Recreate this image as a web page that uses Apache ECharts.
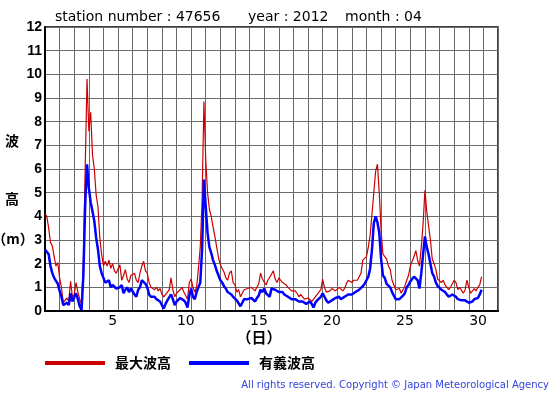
<!DOCTYPE html>
<html>
<head>
<meta charset="utf-8">
<script src="https://cdn.jsdelivr.net/npm/echarts@6/dist/echarts.min.js"></script>
<style>
html,body{margin:0;padding:0;background:#fff;}
#chart{width:555px;height:395px;}
</style>
</head>
<body>
<div id="chart"></div>
<script>
// ---- data (3-hourly samples from 1 April 00:00, heights in metres) ----
const stepHours = 3;
const xLabels = [5, 10, 15, 20, 25, 30];
const yMin = 0, yMax = 12;
const titleStation = 'station number : 47656';
const titleYear = 'year : 2012';
const titleMonth = 'month : 04';
const seriesNames = ['最大波高', '有義波高'];

const maxWave = [
  4.1, 4.0, 3.5, 2.9, 2.75, 2.3, 1.9, 2.05,
  1.4, 1.0, 0.35, 0.45, 0.55, 0.4, 1.25, 0.6,
  0.7, 1.2, 0.8, 0.5, 0.3, 2.0, 6.0, 9.8,
  7.6, 8.4, 6.6, 6.0, 4.9, 4.4, 3.1, 2.4,
  1.9, 2.1, 1.9, 2.15, 1.8, 2.0, 1.7, 1.6,
  1.6, 1.95, 1.3, 1.5, 1.75, 1.35, 1.2, 1.5,
  1.5, 1.6, 1.3, 1.2, 1.6, 1.9, 2.1, 1.7,
  1.6, 1.2, 1.0, 0.95, 0.9, 1.0, 0.85, 0.95,
  0.7, 0.6, 0.65, 0.8, 0.9, 1.4, 0.9, 0.6,
  0.75, 0.8, 0.9, 1.0, 0.8, 0.85, 0.5, 1.2,
  1.35, 1.0, 0.8, 1.0, 1.8, 2.7, 4.7, 8.85,
  6.4, 5.0, 4.3, 4.0, 3.55, 3.15, 2.7, 2.25,
  1.95, 1.8, 1.65, 1.4, 1.3, 1.6, 1.7, 1.2,
  1.1, 0.8, 0.9, 0.6, 0.75, 0.9, 0.85, 0.95,
  0.9, 1.0, 1.05, 0.85, 1.0, 1.15, 1.6, 1.35,
  1.3, 1.1, 1.3, 1.25, 1.55, 1.7, 1.35, 1.2,
  1.4, 1.45, 1.2, 1.15, 1.1, 1.0, 0.95, 0.85,
  0.8, 0.85, 0.75, 0.6, 0.7, 0.6, 0.5, 0.45,
  0.55, 0.5, 0.4, 0.35, 0.6, 0.7, 0.75, 0.9,
  1.35, 1.0, 0.8, 0.85, 0.85, 0.95, 0.9, 0.85,
  0.9, 1.0, 1.05, 0.85, 0.95, 1.15, 1.3, 1.25,
  1.2, 1.3, 1.35, 1.3, 1.45, 1.6, 2.15, 2.2,
  2.3, 2.7, 3.2, 4.1, 5.0, 5.9, 6.2, 5.0,
  3.4, 2.4, 2.3, 2.2, 1.9, 1.75, 1.3, 1.1,
  0.9, 0.85, 0.95, 0.75, 0.9, 1.05, 1.3, 1.5,
  1.9, 1.95, 2.3, 2.55, 2.15, 1.9, 2.7, 3.7,
  5.1, 4.2, 3.6, 3.0, 2.2, 2.0, 1.75, 1.35,
  1.4, 1.2, 1.3, 1.1, 1.05, 0.9, 1.0, 0.95,
  1.3, 1.2, 0.9, 1.0, 0.95, 0.75, 0.9, 1.3,
  1.0, 0.75, 0.8, 0.95, 0.85, 1.0, 1.1, 1.45
];

const sigWave = [
  2.6, 2.6, 2.4, 1.9, 1.6, 1.4, 1.27, 1.15,
  0.85, 0.6, 0.25, 0.3, 0.35, 0.25, 0.75, 0.4,
  0.45, 0.75, 0.5, 0.2, 0.05, 1.5, 4.5, 6.2,
  5.2, 4.6, 4.2, 3.8, 3.1, 2.6, 1.9, 1.6,
  1.4, 1.2, 1.15, 1.3, 1.0, 1.1, 1.15, 0.95,
  0.9, 1.0, 1.1, 0.75, 0.9, 1.0, 0.8, 0.95,
  0.95, 0.7, 0.6, 0.9, 1.0, 1.3, 1.25, 1.15,
  1.0, 0.7, 0.6, 0.55, 0.6, 0.5, 0.45, 0.4,
  0.35, 0.1, 0.3, 0.45, 0.5, 0.7, 0.5, 0.25,
  0.4, 0.45, 0.55, 0.6, 0.45, 0.35, 0.15, 0.65,
  0.95, 0.6, 0.5, 0.8, 1.0, 1.2, 2.6, 5.55,
  4.4, 3.3, 2.7, 2.45, 2.15, 1.95, 1.7, 1.5,
  1.3, 1.2, 1.05, 0.95, 0.8, 0.75, 0.7, 0.6,
  0.55, 0.45, 0.4, 0.2, 0.35, 0.5, 0.45, 0.5,
  0.5, 0.55, 0.6, 0.4, 0.55, 0.65, 0.9, 0.8,
  0.95, 0.75, 0.7, 0.6, 0.95, 1.0, 0.9, 0.85,
  0.8, 0.75, 0.8, 0.7, 0.65, 0.6, 0.55, 0.5,
  0.5, 0.5, 0.45, 0.4, 0.45, 0.4, 0.35, 0.3,
  0.35, 0.4, 0.3, 0.15, 0.35, 0.45, 0.5, 0.6,
  0.75, 0.6, 0.45, 0.35, 0.4, 0.45, 0.5, 0.55,
  0.55, 0.6, 0.5, 0.5, 0.6, 0.65, 0.7, 0.7,
  0.7, 0.75, 0.8, 0.75, 0.9, 0.95, 1.05, 1.15,
  1.3, 1.45, 1.8, 2.6, 3.7, 4.0, 3.75, 3.3,
  2.2, 1.5, 1.4, 1.15, 1.1, 1.0, 0.8, 0.65,
  0.5, 0.45, 0.5, 0.55, 0.65, 0.75, 1.0, 1.1,
  1.25, 1.35, 1.45, 1.4, 1.3, 0.95, 1.6, 2.4,
  3.15, 2.7, 2.4, 2.0, 1.6, 1.45, 1.2, 1.05,
  1.0, 0.9, 0.85, 0.8, 0.7, 0.6, 0.65, 0.7,
  0.7, 0.6, 0.5, 0.55, 0.45, 0.5, 0.45, 0.5,
  0.35, 0.3, 0.4, 0.5, 0.45, 0.55, 0.7, 0.9
];

// ---- chart ----
const toPairs = arr => arr.map((v, i) => [i * stepHours / 24, v]);
const chart = echarts.init(document.getElementById('chart'), null, {renderer: 'canvas'});
const latin = "'DejaVu Sans', sans-serif";
const cjk = "'Noto Sans CJK JP', sans-serif";

chart.setOption({
  animation: false,
  backgroundColor: '#fff',
  grid: {left: 45, right: 57, top: 27, bottom: 84, show: true, borderColor: '#000', borderWidth: 1.5, containLabel: false},
  xAxis: [
    {
      type: 'value', min: 0, max: 31, interval: 1,
      axisLine: {show: true, lineStyle: {color: '#000', width: 2}},
      axisTick: {show: false}, axisLabel: {show: false},
      splitLine: {show: true, lineStyle: {color: '#6a6a6a', width: 1}}
    },
    {
      type: 'value', min: 0, max: 31, interval: 0.5, position: 'bottom',
      axisLine: {show: false}, axisTick: {show: false}, splitLine: {show: false},
      axisLabel: {
        show: true, margin: 3, color: '#000', fontFamily: latin, fontSize: 14,
        padding: [0, 0, 0, 4],
        formatter: v => {
          const n = Math.round(v + 0.5);
          return (Math.abs(v + 0.5 - n) < 1e-6 && xLabels.includes(n)) ? String(n) : '';
        }
      }
    }
  ],
  yAxis: {
    type: 'value', min: yMin, max: yMax, interval: 1,
    axisLine: {show: true, lineStyle: {color: '#000', width: 2}},
    axisTick: {show: false},
    axisLabel: {margin: 3, color: '#000', fontFamily: "'Liberation Sans', Arial, sans-serif", fontWeight: 'bold', fontSize: 14},
    splitLine: {show: true, lineStyle: {color: '#6a6a6a', width: 1}}
  },
  legend: {
    left: 45, top: 356, padding: 0, itemWidth: 60, itemHeight: 4, itemGap: 18, icon: 'rect',
    textStyle: {fontFamily: cjk, fontWeight: 'bold', fontSize: 14, color: '#000', padding: [0, 0, 0, 5]},
    data: seriesNames
  },
  series: [
    {
      name: seriesNames[0], type: 'line', xAxisIndex: 0, showSymbol: false, symbol: 'none',
      color: '#cc0000', lineStyle: {color: '#cc0000', width: 1.2}, z: 2,
      data: toPairs(maxWave)
    },
    {
      name: seriesNames[1], type: 'line', xAxisIndex: 0, showSymbol: false, symbol: 'none',
      color: '#0000ff', lineStyle: {color: '#0000ff', width: 2.5}, z: 3,
      data: toPairs(sigWave)
    }
  ],
  graphic: [
    {type: 'text', x: 55, y: 17, style: {text: titleStation, font: '14px ' + latin, fill: '#000', align: 'left', verticalAlign: 'middle'}},
    {type: 'text', x: 248, y: 17, style: {text: titleYear, font: '14px ' + latin, fill: '#000', align: 'left', verticalAlign: 'middle'}},
    {type: 'text', x: 345, y: 17, style: {text: titleMonth, font: '14px ' + latin, fill: '#000', align: 'left', verticalAlign: 'middle'}},
    {type: 'text', x: 12, y: 141, style: {text: '波', font: 'bold 14px ' + cjk, fill: '#000', align: 'center', verticalAlign: 'middle'}},
    {type: 'text', x: 12, y: 199, style: {text: '高', font: 'bold 14px ' + cjk, fill: '#000', align: 'center', verticalAlign: 'middle'}},
    {type: 'text', x: 13, y: 239, style: {text: '（m）', font: 'bold 14px ' + cjk, fill: '#000', align: 'center', verticalAlign: 'middle'}},
    {type: 'text', x: 259, y: 337, style: {text: '（日）', font: 'bold 15px ' + cjk, fill: '#000', align: 'center', verticalAlign: 'middle'}},
    {type: 'text', x: 549, y: 385, style: {text: 'All rights reserved. Copyright © Japan Meteorological Agency', font: '10px ' + latin, fill: '#3344dd', align: 'right', verticalAlign: 'middle'}}
  ]
});
</script>
</body>
</html>
